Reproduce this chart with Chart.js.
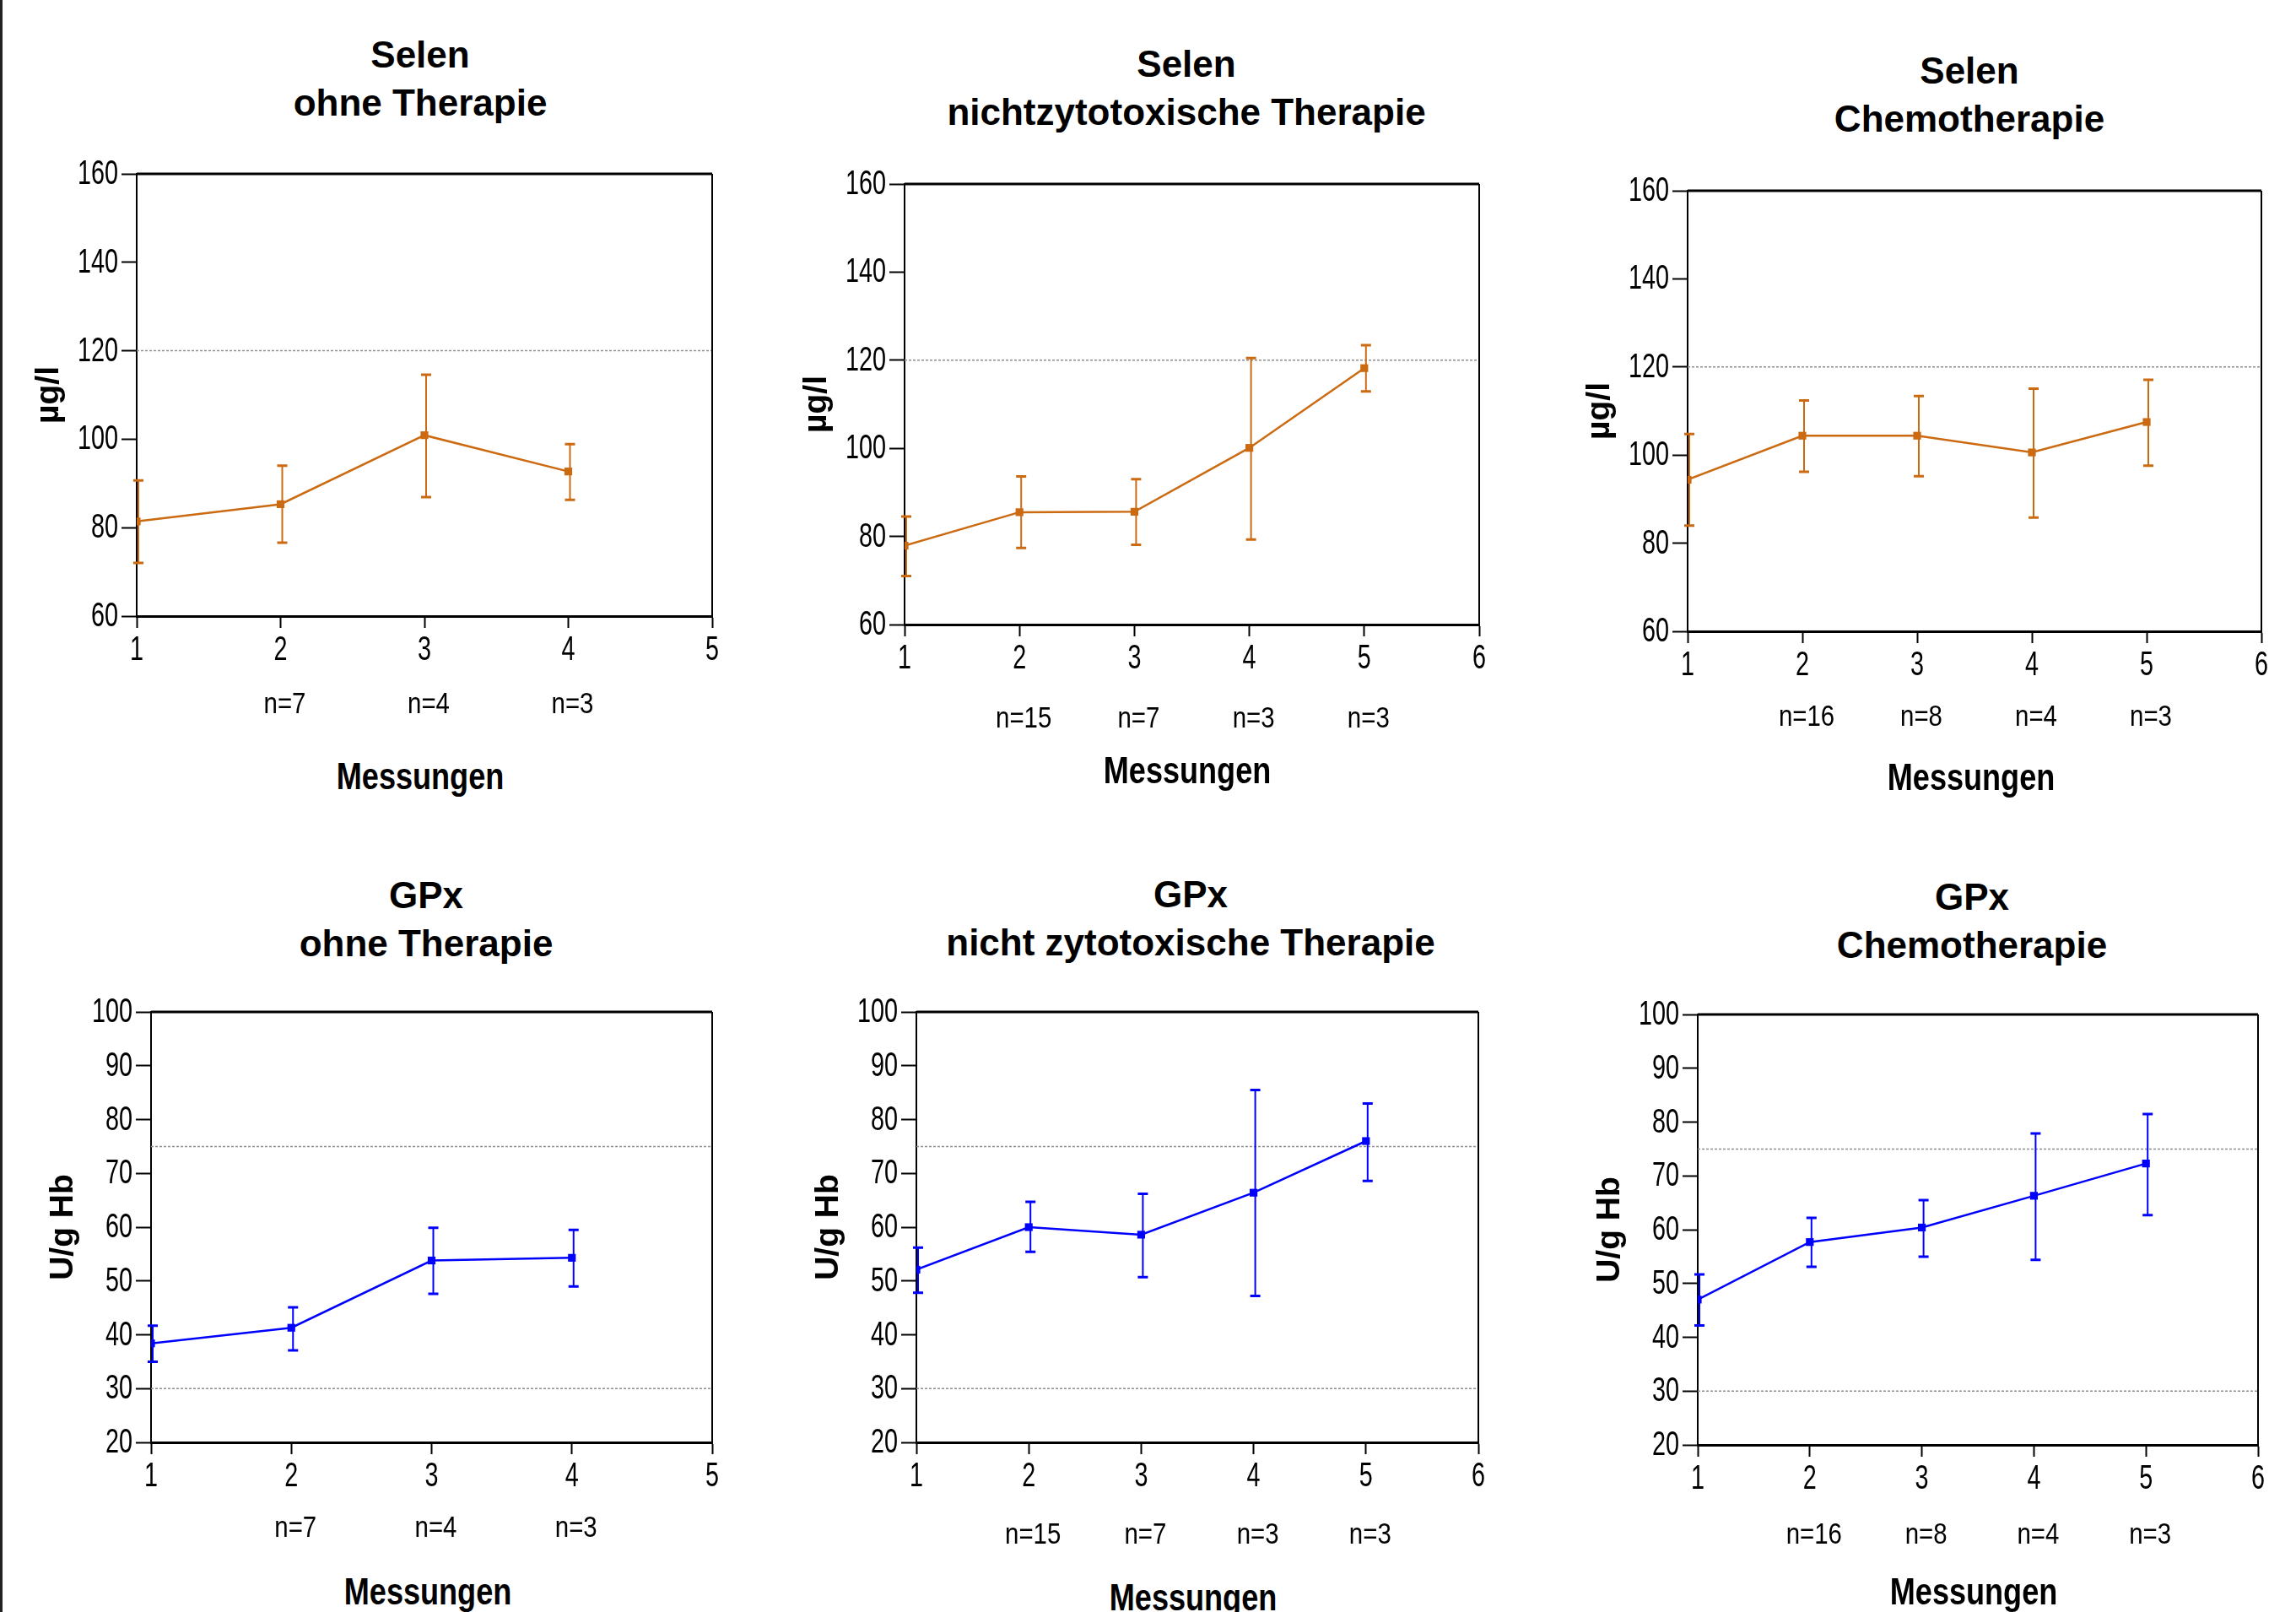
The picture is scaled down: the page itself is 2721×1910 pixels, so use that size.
<!DOCTYPE html>
<html lang="de">
<head>
<meta charset="utf-8">
<title>Selen und GPx</title>
<script src="https://cdn.jsdelivr.net/npm/chart.js@4.4.1/dist/chart.umd.min.js"></script>
<style>
  html, body { margin: 0; padding: 0; background: #fff; }
  body { width: 2721px; height: 1910px; position: relative; overflow: hidden; }
  .rand { position: absolute; left: 0; top: 0; width: 3px; height: 1910px; background: #222; }
  .titel { position: absolute; transform: translateX(-50%); text-align: center; white-space: nowrap;
           font: bold 44px "Liberation Sans", Arial, sans-serif; line-height: 57px; color: #000; }
  .achse { position: absolute; transform: translate(-50%, -50%) scaleX(0.82); white-space: nowrap;
           font: bold 44px "Liberation Sans", Arial, sans-serif; color: #000; }
  canvas { position: absolute; }
</style>
</head>
<body>
<div class="rand"></div>
<script>
  // Messzeitpunkte und Achsen
  const xOhne = [1, 2, 3, 4];
  const xMit = [1, 2, 3, 4, 5];
  const xTicks5 = [1, 2, 3, 4, 5];
  const xTicks6 = [1, 2, 3, 4, 5, 6];
  const selenTicks = [60, 80, 100, 120, 140, 160];
  const gpxTicks = [20, 30, 40, 50, 60, 70, 80, 90, 100];
  const selenRef = [120];
  const gpxRef = [30, 75];

  // Selen ohne Therapie
  const selenOhneMittel = [81.4, 85.3, 100.9, 92.7];
  const selenOhneOben = [90.7, 94.0, 114.6, 98.9];
  const selenOhneUnten = [72.0, 76.6, 86.9, 86.3];
  const selenOhneN = ['', 'n=7', 'n=4', 'n=3'];

  // Selen nichtzytotoxische Therapie
  const selenNichtMittel = [77.9, 85.5, 85.6, 100.1, 118.2];
  const selenNichtOben = [84.5, 93.6, 93.0, 120.5, 123.4];
  const selenNichtUnten = [71.0, 77.4, 78.1, 79.3, 112.9];
  const selenNichtN = ['', 'n=15', 'n=7', 'n=3', 'n=3'];

  // Selen Chemotherapie
  const selenChemoMittel = [94.4, 104.4, 104.4, 100.6, 107.5];
  const selenChemoOben = [104.8, 112.4, 113.4, 115.1, 117.1];
  const selenChemoUnten = [84.0, 96.2, 95.2, 85.8, 97.6];
  const selenChemoN = ['', 'n=16', 'n=8', 'n=4', 'n=3'];

  // GPx ohne Therapie
  const gpxOhneMittel = [38.4, 41.3, 53.8, 54.3];
  const gpxOhneOben = [41.7, 45.1, 59.9, 59.5];
  const gpxOhneUnten = [35.0, 37.1, 47.6, 49.0];
  const gpxOhneN = ['', 'n=7', 'n=4', 'n=3'];

  // GPx nicht zytotoxische Therapie
  const gpxNichtMittel = [52.1, 60.0, 58.6, 66.4, 76.0];
  const gpxNichtOben = [56.2, 64.7, 66.2, 85.5, 83.0];
  const gpxNichtUnten = [47.8, 55.4, 50.7, 47.2, 68.6];
  const gpxNichtN = ['', 'n=15', 'n=7', 'n=3', 'n=3'];

  // GPx Chemotherapie
  const gpxChemoMittel = [47.0, 57.7, 60.4, 66.3, 72.3];
  const gpxChemoOben = [51.7, 62.2, 65.5, 77.9, 81.5];
  const gpxChemoUnten = [42.2, 53.1, 55.0, 54.4, 62.7];
  const gpxChemoN = ['', 'n=16', 'n=8', 'n=4', 'n=3'];

  const orange = '#cc6a12';
  const blau = '#0000ff';

  const panels = [
    { titel: ['Selen', 'ohne Therapie'], einheit: 'µg/l', x: xOhne, mittel: selenOhneMittel, oben: selenOhneOben,
      unten: selenOhneUnten, n: selenOhneN, xTicks: xTicks5, yTicks: selenTicks, ref: selenRef, farbe: orange,
      box: { l: 161.6, r: 843.6, t: 206, b: 730 }, titelPos: [498, 64], messPos: [498, 920], nAbstand: 105 },
    { titel: ['Selen', 'nichtzytotoxische Therapie'], einheit: 'µg/l', x: xMit, mittel: selenNichtMittel, oben: selenNichtOben,
      unten: selenNichtUnten, n: selenNichtN, xTicks: xTicks6, yTicks: selenTicks, ref: selenRef, farbe: orange,
      box: { l: 1072, r: 1752.8, t: 218.3, b: 740 }, titelPos: [1406, 75], messPos: [1407, 913], nAbstand: 112 },
    { titel: ['Selen', 'Chemotherapie'], einheit: 'µg/l', x: xMit, mittel: selenChemoMittel, oben: selenChemoOben,
      unten: selenChemoUnten, n: selenChemoN, xTicks: xTicks6, yTicks: selenTicks, ref: selenRef, farbe: orange,
      box: { l: 2000, r: 2679.8, t: 226, b: 748 }, titelPos: [2334, 83], messPos: [2336, 921], nAbstand: 102 },
    { titel: ['GPx', 'ohne Therapie'], einheit: 'U/g Hb', x: xOhne, mittel: gpxOhneMittel, oben: gpxOhneOben,
      unten: gpxOhneUnten, n: gpxOhneN, xTicks: xTicks5, yTicks: gpxTicks, ref: gpxRef, farbe: blau,
      box: { l: 179, r: 844, t: 1199, b: 1709 }, titelPos: [505, 1060], messPos: [507, 1886], nAbstand: 102 },
    { titel: ['GPx', 'nicht zytotoxische Therapie'], einheit: 'U/g Hb', x: xMit, mittel: gpxNichtMittel, oben: gpxNichtOben,
      unten: gpxNichtUnten, n: gpxNichtN, xTicks: xTicks6, yTicks: gpxTicks, ref: gpxRef, farbe: blau,
      box: { l: 1086, r: 1752, t: 1199, b: 1709 }, titelPos: [1411, 1059], messPos: [1414, 1893], nAbstand: 110 },
    { titel: ['GPx', 'Chemotherapie'], einheit: 'U/g Hb', x: xMit, mittel: gpxChemoMittel, oben: gpxChemoOben,
      unten: gpxChemoUnten, n: gpxChemoN, xTicks: xTicks6, yTicks: gpxTicks, ref: gpxRef, farbe: blau,
      box: { l: 2011.6, r: 2676, t: 1202, b: 1711.7 }, titelPos: [2337, 1062], messPos: [2339, 1886], nAbstand: 107 }
  ];

  // Randabstände der Zeichenflächen
  const PAD_L = 150, PAD_T = 40, PAD_R = 40, PAD_B = 150;
  const tickFont = { family: '"Liberation Sans", Arial, sans-serif', size: 34 };
  const schmalFont = '40px "Liberation Sans", Arial, sans-serif';

  // schmal gesetzter Text (wie Arial Narrow)
  function schmalText(ctx, text, x, y, faktor) {
    ctx.save();
    ctx.translate(x, y);
    ctx.scale(faktor, 1);
    ctx.fillText(text, 0, 0);
    ctx.restore();
  }

  // Referenzlinien, Fehlerbalken, Rahmen, Achsbeschriftung und n-Angaben
  const fehlerbalken = {
    id: 'fehlerbalken',
    beforeDatasetsDraw(chart, args, opts) {
      const { ctx, chartArea, scales: { y } } = chart;
      ctx.save();
      ctx.strokeStyle = '#8f8f8f';
      ctx.lineWidth = 1.5;
      ctx.setLineDash([3, 2]);
      opts.ref.forEach(v => {
        const py = y.getPixelForValue(v);
        ctx.beginPath();
        ctx.moveTo(chartArea.left, py);
        ctx.lineTo(chartArea.right, py);
        ctx.stroke();
      });
      ctx.restore();
    },
    afterDatasetsDraw(chart, args, opts) {
      const { ctx, chartArea, scales: { x, y } } = chart;
      ctx.save();
      ctx.strokeStyle = opts.farbe;
      opts.x.forEach((xv, i) => {
        const px = x.getPixelForValue(xv) + 2;
        const pyO = y.getPixelForValue(opts.oben[i]);
        const pyU = y.getPixelForValue(opts.unten[i]);
        ctx.lineWidth = 2;
        ctx.beginPath();
        ctx.moveTo(px, pyO);
        ctx.lineTo(px, pyU);
        ctx.stroke();
        ctx.lineWidth = 3;
        ctx.beginPath();
        ctx.moveTo(px - 6, pyO); ctx.lineTo(px + 6, pyO);
        ctx.moveTo(px - 6, pyU); ctx.lineTo(px + 6, pyU);
        ctx.stroke();
      });
      // Rahmen oben und rechts
      ctx.strokeStyle = '#000';
      ctx.lineWidth = 3;
      ctx.beginPath();
      ctx.moveTo(chartArea.left, chartArea.top);
      ctx.lineTo(chartArea.right, chartArea.top);
      ctx.stroke();
      ctx.lineWidth = 2;
      ctx.beginPath();
      ctx.moveTo(chartArea.right, chartArea.top);
      ctx.lineTo(chartArea.right, chartArea.bottom);
      ctx.stroke();

      ctx.fillStyle = '#000';
      ctx.textBaseline = 'middle';
      // Tick-Beschriftungen schmal
      ctx.font = schmalFont;
      ctx.textAlign = 'right';
      y.ticks.forEach(t => schmalText(ctx, String(t.value), chartArea.left - 22, y.getPixelForValue(t.value) + 1, 0.72));
      ctx.textAlign = 'center';
      x.ticks.forEach(t => schmalText(ctx, String(t.value), x.getPixelForValue(t.value), chartArea.bottom + 41, 0.72));

      // n-Angaben unter der x-Achse
      ctx.font = '35px "Liberation Sans", Arial, sans-serif';
      opts.x.forEach((xv, i) => {
        if (opts.n[i]) schmalText(ctx, opts.n[i], x.getPixelForValue(xv) + 5, chartArea.bottom + opts.nAbstand, 0.84);
      });
      ctx.restore();
    }
  };

  panels.forEach(p => {
    const b = p.box;
    const w = Math.round(b.r - b.l) + PAD_L + PAD_R;
    const h = Math.round(b.b - b.t) + PAD_T + PAD_B;

    const canvas = document.createElement('canvas');
    canvas.width = w;
    canvas.height = h;
    canvas.style.left = (b.l - PAD_L) + 'px';
    canvas.style.top = (b.t - PAD_T) + 'px';
    canvas.style.width = w + 'px';
    canvas.style.height = h + 'px';
    document.body.appendChild(canvas);

    const titel = document.createElement('div');
    titel.className = 'titel';
    titel.innerHTML = p.titel.join('<br>');
    titel.style.left = p.titelPos[0] + 'px';
    titel.style.top = (p.titelPos[1] - 28.5) + 'px';
    document.body.appendChild(titel);

    const mess = document.createElement('div');
    mess.className = 'achse';
    mess.textContent = 'Messungen';
    mess.style.left = p.messPos[0] + 'px';
    mess.style.top = p.messPos[1] + 'px';
    document.body.appendChild(mess);

    new Chart(canvas.getContext('2d'), {
      type: 'line',
      data: {
        datasets: [{
          data: p.x.map((xv, i) => ({ x: xv, y: p.mittel[i] })),
          borderColor: p.farbe,
          backgroundColor: p.farbe,
          borderWidth: 2.5,
          tension: 0,
          pointStyle: 'rect',
          pointRadius: 6.5,
          pointBorderWidth: 0,
          pointBackgroundColor: p.farbe
        }]
      },
      options: {
        responsive: false,
        animation: false,
        devicePixelRatio: 1,
        layout: { padding: { top: PAD_T, right: PAD_R, left: 0, bottom: 0 } },
        plugins: {
          legend: { display: false },
          tooltip: { enabled: false },
          fehlerbalken: { ref: p.ref, x: p.x, oben: p.oben, unten: p.unten, n: p.n, farbe: p.farbe, nAbstand: p.nAbstand }
        },
        scales: {
          x: {
            type: 'linear',
            min: p.xTicks[0],
            max: p.xTicks[p.xTicks.length - 1],
            afterBuildTicks: s => { s.ticks = p.xTicks.map(v => ({ value: v })); },
            afterFit: s => { s.height = PAD_B; },
            ticks: { font: tickFont, color: 'rgba(0,0,0,0)', padding: 5, maxRotation: 0, autoSkip: false },
            grid: { drawOnChartArea: false, tickLength: 14, tickColor: '#000', tickWidth: 2 },
            border: { color: '#000', width: 3 }
          },
          y: {
            min: p.yTicks[0],
            max: p.yTicks[p.yTicks.length - 1],
            afterBuildTicks: s => { s.ticks = p.yTicks.map(v => ({ value: v })); },
            afterFit: s => { s.width = PAD_L; },
            ticks: { font: tickFont, color: 'rgba(0,0,0,0)', padding: 5 },
            grid: { drawOnChartArea: false, tickLength: 18, tickColor: '#000', tickWidth: 2 },
            border: { color: '#000', width: 2 },
            title: {
              display: true,
              text: p.einheit,
              color: '#000',
              font: { family: '"Liberation Sans", Arial, sans-serif', size: 39, weight: 'bold' },
              padding: { top: 23, bottom: 0 }
            }
          }
        }
      },
      plugins: [fehlerbalken]
    });
  });
</script>
</body>
</html>
